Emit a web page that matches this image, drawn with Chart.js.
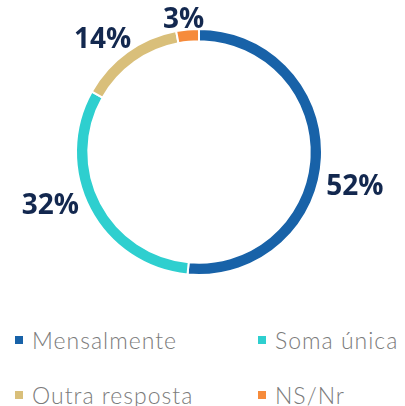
<!DOCTYPE html>
<html>
<head>
<meta charset="utf-8">
<script src="https://cdn.jsdelivr.net/npm/chart.js@4"></script>
<style>
  body { margin: 0; background: #fff; }
  #wrap { position: relative; width: 405px; height: 300px; }
  #legend { position: absolute; top: 326px; left: 0; width: 405px; font-family: Lato, sans-serif; font-weight: 300; font-size: 23px; letter-spacing: 1px; color: #7b7b7b; }
  .item { position: absolute; display: flex; align-items: center; white-space: nowrap; }
  .box { width: 8px; height: 8px; margin-right: 9px; }
</style>
</head>
<body>
<div id="wrap"><canvas id="mycanvas"></canvas></div>
<div id="legend"></div>
<script>
var labels = ['Mensalmente', 'Soma única', 'Outra resposta', 'NS/Nr'];
var values = [52, 32, 14, 3];
var colors = ['#1862a8', '#2ecfcf', '#d9bf7a', '#f68b3b'];

// label nudges (px) from the arc mid-point, so text sits like the original
var labelNudge = [[13, 28], [-22, -12], [-13, 4], [-2, 10]];

var outsideLabels = {
  id: 'outsideLabels',
  afterDatasetsDraw: function(chart) {
    var ctx = chart.ctx;
    var meta = chart.getDatasetMeta(0);
    ctx.save();
    ctx.font = 'bold 28px "Open Sans", sans-serif';
    ctx.fillStyle = '#13284f';
    ctx.textAlign = 'center';
    ctx.textBaseline = 'middle';
    meta.data.forEach(function(arc, i) {
      var mid = (arc.startAngle + arc.endAngle) / 2;
      var r = arc.outerRadius + 20;
      var x = arc.x + Math.cos(mid) * r + labelNudge[i][0];
      var y = arc.y + Math.sin(mid) * r + labelNudge[i][1];
      ctx.fillText(values[i] + '%', x, y);
    });
    ctx.restore();
  }
};

new Chart(document.getElementById('mycanvas'), {
  type: 'doughnut',
  data: {
    labels: labels,
    datasets: [{
      data: values,
      backgroundColor: colors,
      borderColor: '#ffffff',
      borderWidth: 2
    }]
  },
  options: {
    responsive: true,
    maintainAspectRatio: false,
    animation: false,
    cutout: '90%',
    layout: { padding: { top: 28, bottom: 24, left: 0, right: 7 } },
    plugins: {
      legend: { display: false },
      tooltip: { enabled: false }
    }
  },
  plugins: [outsideLabels]
});

var legend = document.getElementById('legend');
var pos = [[15, 0], [258, 0], [15, 55], [258, 55]];
labels.forEach(function(l, i) {
  var d = document.createElement('div');
  d.className = 'item';
  d.style.left = pos[i][0] + 'px';
  d.style.top = pos[i][1] + 'px';
  d.innerHTML = '<span class="box" style="background:' + colors[i] + '"></span>' + l;
  legend.appendChild(d);
});
</script>
</body>
</html>
